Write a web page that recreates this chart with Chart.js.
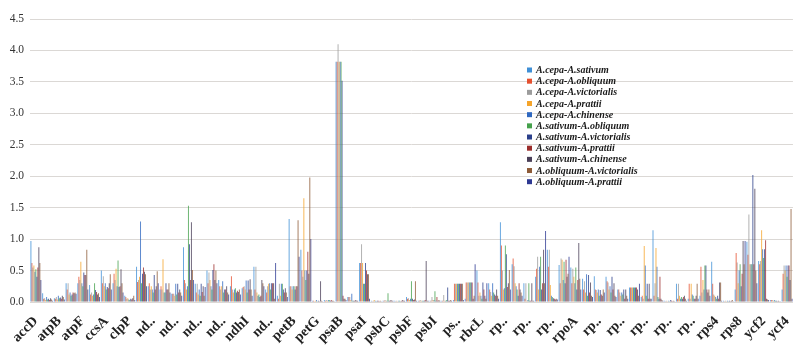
<!DOCTYPE html>
<html>
<head>
<meta charset="utf-8">
<script src="https://cdn.jsdelivr.net/npm/chart.js@4.4.1/dist/chart.umd.min.js"></script>
<style>
  body { margin: 0; background: #fff; }
  #wrap { width: 802px; height: 351px; }
</style>
</head>
<body>
<div id="wrap"><canvas id="codonChart" width="802" height="351"></canvas></div>
<script>
// genes (x categories)
const genes = ['accD','atpA','atpB','atpE','atpF','atpH','ccsA','cemA','clpP','matK',
  'ndhA','ndhB','ndhC','ndhD','ndhE','ndhF','ndhG','ndhH','ndhI','ndhJ',
  'ndhK','petA','petB','petD','petG','psaA','psaB','psaC','psaI','psaJ',
  'psbC','psbD','psbF','psbH','psbI','psbJ','psbK','psbM','rbcL','rpl14',
  'rpl16','rpl2','rpl20','rpl22','rpl23','rpl32','rpoA','rpoB','rpoC1','rpoC2',
  'rps11','rps12','rps14','rps15','rps16','rps18','rps19','rps2','rps4','rps7',
  'rps8','ycf1','ycf2','ycf3','ycf4'];

// labels as they appear under the axis (every other gene, long ones cut)
const tickLabels = ['accD','atpB','atpF','ccsA','clpP','nd..','nd..','nd..','nd..','ndhI',
  'nd..','petB','petG','psaB','psaI','psbC','psbF','psbI','ps..','rbcL',
  'rp..','rp..','rp..','rpoA','rp..','rp..','rp..','rp..','rp..','rps4',
  'rps8','ycf2','ycf4'];

const yTicks = [0, 0.5, 1, 1.5, 2, 2.5, 3, 3.5, 4, 4.5];

const pairNames = ['A.cepa-A.sativum','A.cepa-A.obliquum','A.cepa-A.victorialis','A.cepa-A.prattii',
  'A.cepa-A.chinense','A.sativum-A.obliquum','A.sativum-A.victorialis','A.sativum-A.prattii',
  'A.sativum-A.chinense','A.obliquum-A.victorialis','A.obliquum-A.prattii'];

const pairColors = ['#3f8fd6','#e5502f','#9c9c9c','#f5a42a','#2f68c0','#45a14c',
  '#2a3f8a','#9b2d2b','#4a3f58','#8d5a37','#2d3892'];

// values per pair
const cepaSativum = [0.97,0.14,0.06,0.30,0.30,0.27,0.50,0.30,0.10,0.56,
  0.25,0.20,0.13,0.87,0.29,0.50,0.35,0.25,0.22,0.56,
  0.20,0.10,1.32,0.83,0.02,0.03,3.82,0.08,0.62,0.02,
  0.02,0.02,0.08,0.02,0.02,0.02,0.03,0.05,0.50,0.30,
  1.27,0.60,0.30,0.40,0.83,0.59,0.55,0.37,0.41,0.40,
  0.20,0.23,0.08,1.14,0.02,0.29,0.05,0.10,0.64,0.02,
  0.20,0.96,0.65,0.03,0.20];
const cepaObliquum = [0.62,0.05,0.05,0.20,0.40,0.12,0.30,0.45,0.08,0.32,
  0.30,0.25,0.13,0.35,0.15,0.30,0.25,0.41,0.24,0.20,
  0.15,0.05,0.25,0.50,0.02,0.02,3.82,0.08,0.62,0.01,
  0.02,0.01,0.05,0.02,0.02,0.02,0.29,0.31,0.31,0.20,
  0.90,0.69,0.05,0.53,0.56,0.30,0.30,0.20,0.20,0.33,
  0.20,0.23,0.10,0.10,0.01,0.05,0.29,0.56,0.29,0.01,
  0.78,0.75,0.60,0.03,0.45];
const cepaVictorialis = [0.55,0.06,0.08,0.30,0.35,0.15,0.41,0.35,0.05,0.35,
  0.20,0.20,0.13,0.30,0.29,0.47,0.20,0.20,0.25,0.56,
  0.25,0.29,0.25,0.40,0.01,0.03,4.10,0.08,0.92,0.02,
  0.03,0.02,0.06,0.03,0.08,0.11,0.29,0.31,0.10,0.16,
  0.50,0.57,0.30,0.72,0.83,0.69,0.53,0.33,0.19,0.31,
  0.15,0.23,0.05,0.30,0.02,0.29,0.05,0.15,0.12,0.02,
  0.63,1.39,0.65,0.03,0.58];
const cepaPrattii = [0.58,0.03,0.04,0.12,0.64,0.10,0.25,0.53,0.06,0.40,
  0.25,0.68,0.10,0.20,0.12,0.35,0.25,0.15,0.20,0.15,
  0.29,0.10,0.20,1.65,0.02,0.02,3.82,0.03,0.62,0.03,
  0.02,0.01,0.03,0.02,0.03,0.02,0.29,0.31,0.15,0.10,
  0.20,0.30,0.02,0.20,0.27,0.67,0.40,0.15,0.15,0.20,
  0.10,0.23,0.89,0.86,0.01,0.10,0.29,0.35,0.10,0.01,
  0.30,0.60,1.14,0.02,0.50];
const cepaChinense = [0.48,0.08,0.10,0.15,0.30,0.12,0.30,0.25,0.04,1.28,
  0.20,0.15,0.29,0.25,0.20,0.25,0.33,0.20,0.34,0.10,
  0.30,0.29,0.25,0.50,0.03,0.03,3.82,0.13,0.29,0.02,
  0.02,0.02,0.05,0.02,0.03,0.02,0.29,0.31,0.10,0.30,
  0.22,0.25,0.03,0.56,0.10,0.35,0.30,0.44,0.20,0.25,
  0.15,0.23,0.58,0.56,0.02,0.05,0.12,0.20,0.08,0.02,
  0.50,0.60,0.84,0.03,0.58];
const sativumObliquum = [0.52,0.04,0.06,0.10,0.25,0.30,0.20,0.66,0.03,0.30,
  0.15,0.15,0.12,1.53,0.10,0.20,0.15,0.22,0.15,0.12,
  0.20,0.29,0.25,0.35,0.01,0.03,3.82,0.02,0.29,0.01,
  0.14,0.02,0.33,0.02,0.17,0.03,0.29,0.31,0.05,0.15,
  0.90,0.20,0.30,0.72,0.08,0.64,0.55,0.10,0.10,0.15,
  0.12,0.23,0.10,0.08,0.01,0.08,0.10,0.58,0.05,0.01,
  0.60,0.60,0.70,0.02,0.40];
const sativumVictorialis = [0.40,0.05,0.07,0.12,0.47,0.19,0.24,0.24,0.05,0.45,
  0.43,0.30,0.29,0.92,0.29,0.51,0.20,0.15,0.34,0.08,
  0.30,0.20,0.20,0.50,0.02,0.02,3.52,0.02,0.62,0.02,
  0.02,0.01,0.05,0.02,0.02,0.23,0.29,0.31,0.31,0.12,
  0.76,0.10,0.02,0.20,0.06,0.30,0.20,0.43,0.19,0.40,
  0.20,0.23,0.29,0.05,0.03,0.05,0.05,0.58,0.10,0.02,
  0.25,2.02,0.84,0.02,0.58];
const sativumPrattii = [0.55,0.03,0.05,0.15,0.43,0.16,0.22,0.25,0.04,0.55,
  0.20,0.20,0.15,0.35,0.16,0.60,0.20,0.18,0.20,0.10,
  0.30,0.15,0.25,0.80,0.01,0.03,0.10,0.02,0.50,0.02,
  0.02,0.02,0.03,0.03,0.08,0.02,0.29,0.31,0.20,0.10,
  0.24,0.30,0.02,0.30,0.05,0.67,0.35,0.15,0.12,0.20,
  0.05,0.23,0.05,0.40,0.02,0.08,0.05,0.20,0.05,0.01,
  0.45,0.60,0.98,0.01,0.58];
const sativumChinense = [0.87,0.06,0.10,0.14,0.43,0.12,0.30,0.52,0.06,0.48,
  0.25,0.20,0.20,1.27,0.25,0.35,0.25,0.16,0.36,0.35,
  0.30,0.22,0.25,0.45,0.33,0.02,0.05,0.03,0.44,0.01,
  0.03,0.03,0.04,0.65,0.02,0.02,0.29,0.05,0.10,0.20,
  0.30,0.20,0.30,0.83,0.04,0.40,0.94,0.31,0.10,0.30,
  0.20,0.20,0.29,0.05,0.01,0.10,0.10,0.15,0.31,0.02,
  0.97,1.80,0.05,0.02,0.35];
const obliquumVictorialis = [0.62,0.04,0.08,0.15,0.83,0.14,0.44,0.30,0.10,0.44,
  0.49,0.30,0.15,0.51,0.10,0.50,0.15,0.20,0.20,0.30,
  0.05,0.15,1.30,1.98,0.02,0.02,0.05,0.02,0.44,0.02,
  0.02,0.02,0.33,0.02,0.03,0.03,0.29,0.10,0.05,0.10,
  0.51,0.15,0.02,0.30,0.05,0.45,0.37,0.10,0.20,0.10,
  0.10,0.10,0.05,0.03,0.02,0.05,0.29,0.20,0.31,0.03,
  0.60,0.50,0.04,0.01,1.48];
const obliquumPrattii = [0.35,0.02,0.04,0.13,0.20,0.08,0.20,0.15,0.03,0.25,
  0.30,0.15,0.10,0.35,0.24,0.30,0.12,0.12,0.10,0.25,
  0.62,0.08,0.72,1.00,0.01,0.01,0.03,0.02,0.05,0.01,
  0.02,0.02,0.02,0.02,0.02,0.02,0.03,0.60,0.30,0.05,
  0.20,0.10,0.02,1.13,0.04,0.72,0.20,0.08,0.15,0.08,
  0.05,0.29,0.05,0.02,0.01,0.02,0.05,0.10,0.02,0.01,
  0.97,0.30,0.03,0.01,0.05];

const pairValues = [cepaSativum, cepaObliquum, cepaVictorialis, cepaPrattii, cepaChinense,
  sativumObliquum, sativumVictorialis, sativumPrattii, sativumChinense,
  obliquumVictorialis, obliquumPrattii];

// legend drawn inside the plot, like the original figure
const insideLegend = {
    id: 'insideLegend',
    afterDraw(chart) {
        const ctx = chart.ctx;
        ctx.save();
        ctx.font = 'italic bold 10px "Liberation Serif", serif';
        ctx.textBaseline = 'middle';
        chart.data.datasets.forEach((ds, i) => {
            const y = 70 + i * 11.17;
            ctx.fillStyle = pairColors[i];
            ctx.fillRect(527, y - 2.5, 5, 5);
            ctx.fillStyle = '#1a1a1a';
            ctx.fillText(ds.label, 536, y + 0.5);
        });
        ctx.restore();
    }
};

const ctx = document.getElementById('codonChart').getContext('2d');
new Chart(ctx, {
    type: 'bar',
    data: {
        labels: genes,
        datasets: pairNames.map((name, i) => ({
            label: name,
            data: pairValues[i],
            backgroundColor: pairColors[i] + 'c8', // a bit paler, like the scan
            borderWidth: 0,
            categoryPercentage: 0.93,
            barPercentage: 1.0
        }))
    },
    options: {
        responsive: false,
        animation: false,
        layout: { padding: { top: 19, right: 6, left: 0, bottom: 0 } },
        plugins: {
            legend: { display: false },
            tooltip: { enabled: false }
        },
        scales: {
            x: {
                grid: { display: false },
                border: { display: false },
                ticks: {
                    autoSkip: false,
                    maxRotation: 45,
                    minRotation: 45,
                    padding: 3,
                    color: '#222',
                    font: { family: '"Liberation Serif", serif', size: 14, weight: 'bold' },
                    callback: (val, idx) => idx % 2 === 0 ? tickLabels[idx / 2] : ''
                },
                afterFit: scale => { scale.height = 49; }
            },
            y: {
                min: 0,
                max: 4.5,
                afterBuildTicks: scale => { scale.ticks = yTicks.map(v => ({ value: v })); },
                grid: { color: '#dbd8d5', drawTicks: false, lineWidth: 1 },
                border: { display: false },
                ticks: {
                    padding: 6,
                    color: '#333',
                    font: { family: '"Liberation Serif", serif', size: 11.5 },
                    callback: v => Number(v).toFixed(1)
                },
                afterFit: scale => { scale.width = 30; }
            }
        }
    },
    plugins: [insideLegend]
});
</script>
</body>
</html>
